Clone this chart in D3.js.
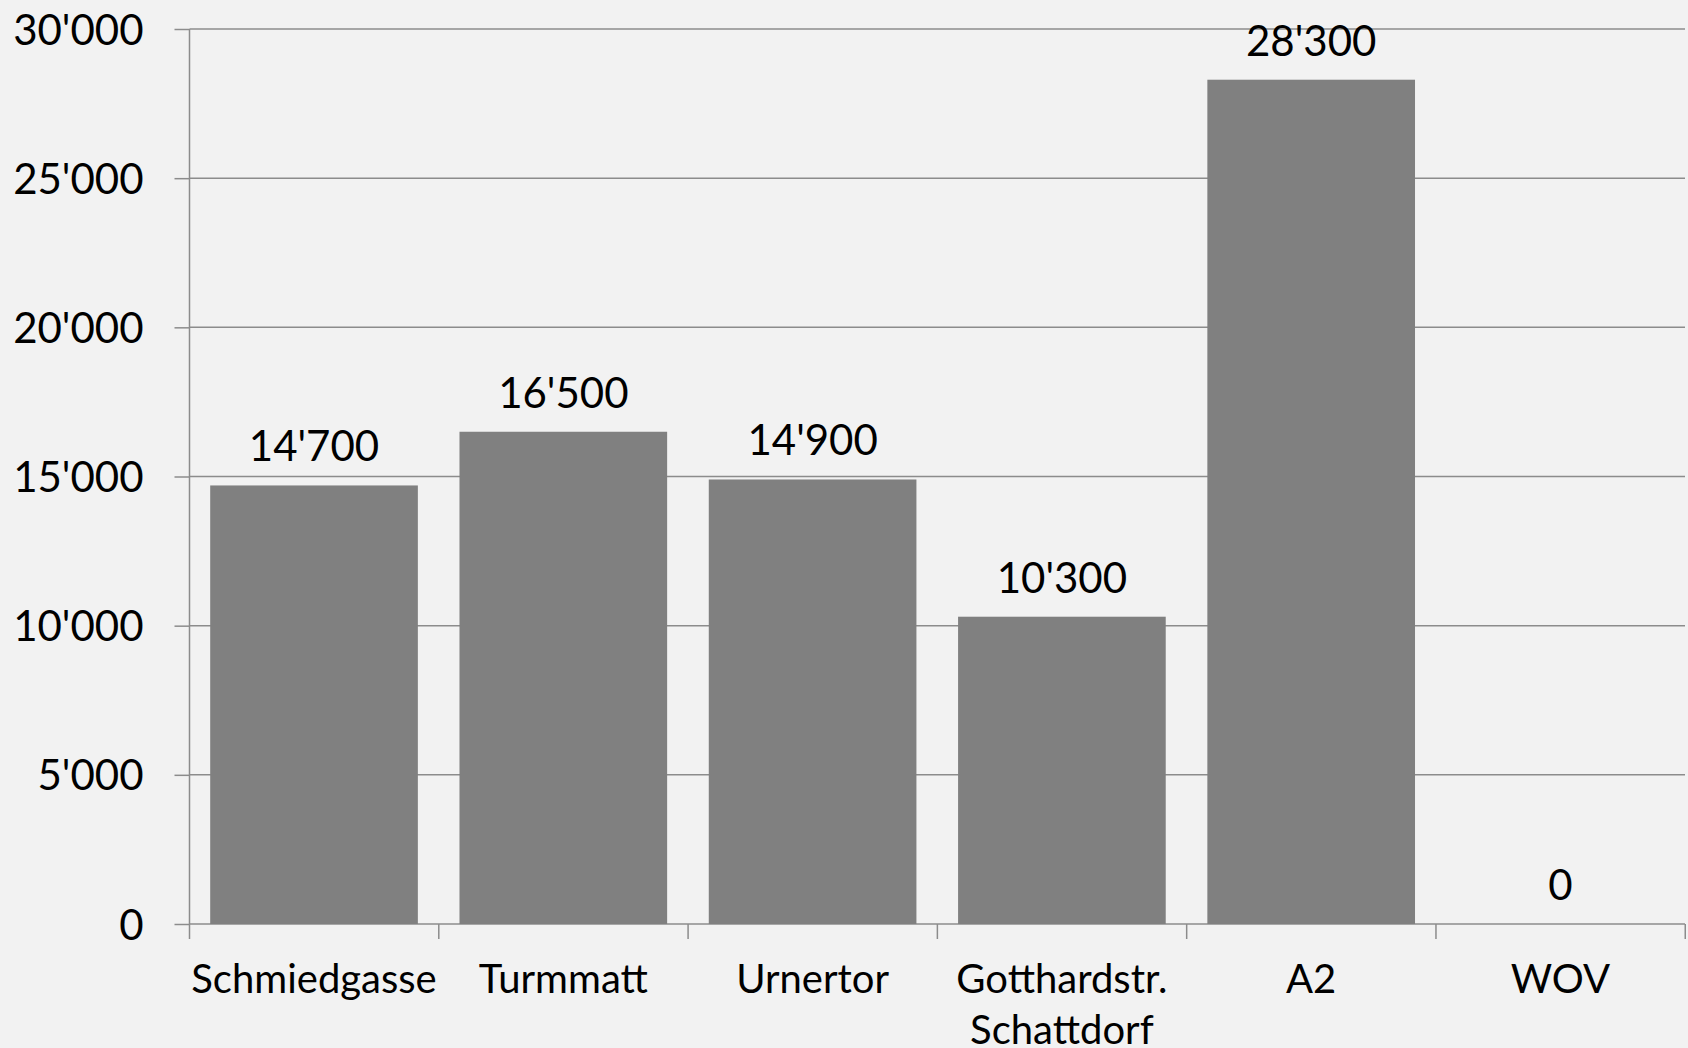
<!DOCTYPE html>
<html>
<head>
<meta charset="utf-8">
<script src="https://cdn.jsdelivr.net/npm/d3@7"></script>
<style>
  html, body { margin: 0; padding: 0; background: #f2f2f2; }
  svg { display: block; font-family: Lato, "Open Sans", sans-serif; }
</style>
</head>
<body>
<div class="c_chart"></div>
<script>
// Daten
const categories = ["Schmiedgasse", "Turmmatt", "Urnertor", "Gotthardstr.\nSchattdorf", "A2", "WOV"];
const values = [14700, 16500, 14900, 10300, 28300, 0];
const yTicks = [0, 5000, 10000, 15000, 20000, 25000, 30000];

const width = 1688;
const height = 1048;
const margin = {top: 29, right: 3, bottom: 124, left: 189.5};

const svg = d3.select(".c_chart")
	.append("svg")
	.attr("width", width)
	.attr("height", height);

svg.append("rect")
	.attr("width", width)
	.attr("height", height)
	.attr("fill", "#f2f2f2");

// format 30'000
const fmt = d3.formatLocale({decimal: ".", thousands: "'", grouping: [3], currency: ["", ""]}).format(",");

const x = d3.scaleBand()
	.domain(categories)
	.range([margin.left, width - margin.right])
	.paddingInner(0.167)
	.paddingOuter(0.083);

const y = d3.scaleLinear()
	.domain([0, 30000])
	.range([height - margin.bottom, margin.top]);

const gridColor = "#8c8c8c";

// Gitterlinien + y-Achse
const yAxis = svg.append("g")
	.attr("transform", `translate(${margin.left},0)`)
	.call(d3.axisLeft(y)
		.tickValues(yTicks)
		.tickSize(15)
		.tickFormat(fmt));
yAxis.select(".domain").attr("stroke", gridColor).attr("stroke-width", 1.5)
	.attr("d", `M0,${y(0)}V${y(30000)}`);
yAxis.selectAll(".tick line").attr("stroke", gridColor).attr("stroke-width", 1.5);
yAxis.selectAll(".tick text")
	.attr("x", -46)
	.attr("dy", "0.36em")
	.attr("fill", "#000")
	.style("font-size", "42px")
	.style("font-family", "Lato, 'Open Sans', sans-serif");

svg.append("g")
	.selectAll("line")
	.data(yTicks)
	.join("line")
	.attr("x1", margin.left)
	.attr("x2", width - margin.right)
	.attr("y1", d => y(d))
	.attr("y2", d => y(d))
	.attr("stroke", gridColor)
	.attr("stroke-width", 1.5);

// Balken
svg.append("g")
	.selectAll("rect")
	.data(values)
	.join("rect")
	.attr("x", (d, i) => x(categories[i]))
	.attr("y", d => y(d))
	.attr("width", x.bandwidth())
	.attr("height", d => y(0) - y(d))
	.attr("fill", "#808080");

// Werte
svg.append("g")
	.selectAll("text")
	.data(values)
	.join("text")
	.attr("x", (d, i) => x(categories[i]) + x.bandwidth() / 2)
	.attr("y", d => y(d) - 24)
	.attr("text-anchor", "middle")
	.style("font-size", "42px")
	.text(d => fmt(d));

// x-Achse
const step = x.step();
const xTicks = d3.range(categories.length + 1).map(i => margin.left + i * step);
svg.append("g")
	.selectAll("line")
	.data(xTicks)
	.join("line")
	.attr("x1", d => d)
	.attr("x2", d => d)
	.attr("y1", y(0))
	.attr("y2", y(0) + 15)
	.attr("stroke", gridColor)
	.attr("stroke-width", 1.5);

svg.append("g")
	.selectAll("text")
	.data(categories)
	.join("text")
	.attr("x", d => x(d) + x.bandwidth() / 2)
	.attr("y", y(0) + 69)
	.attr("text-anchor", "middle")
	.style("font-size", "40px")
	.each(function(d){
		const lines = d.split("\n");
		d3.select(this).selectAll("tspan")
			.data(lines)
			.join("tspan")
			.attr("x", x(d) + x.bandwidth() / 2)
			.attr("dy", (l, j) => j === 0 ? 0 : 51)
			.text(l => l);
	});
</script>
</body>
</html>
